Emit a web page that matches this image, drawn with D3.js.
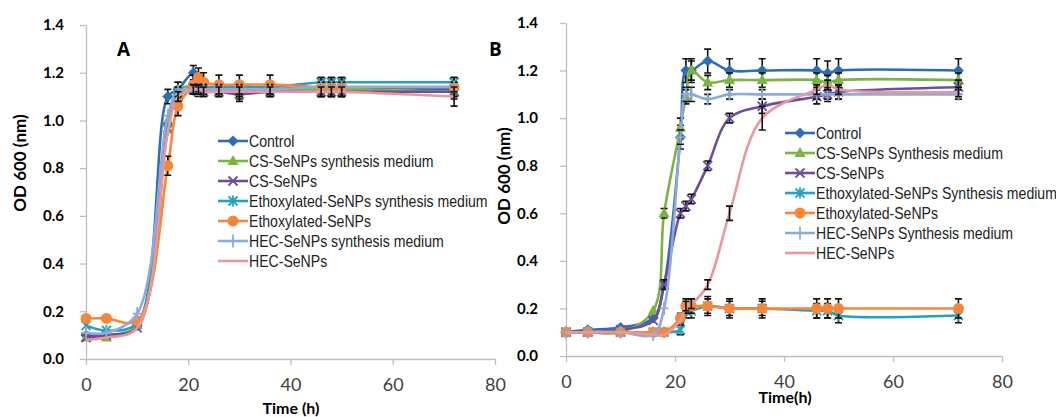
<!DOCTYPE html>
<html lang="en">
<head>
<meta charset="UTF-8">
<title>OD 600 growth curves</title>
<script src="https://d3js.org/d3.v7.min.js"></script>
<style>
  body { margin: 0; background: #fff; }
  svg { display: block; }
  .axis .domain, .axis line { stroke: #bfbfbf; stroke-width: 1.3; }
  .yaxis text { font: bold 15px Lato, sans-serif; fill: #000; }
  .xaxis text { font: 18px Lato, sans-serif; fill: #404040; }
  .lbl { font: bold 16px Lato, sans-serif; fill: #000; }
  .ylbl { font: bold 17px Lato, sans-serif; fill: #000; }
  .panel-letter { font: bold 19px "Open Sans", sans-serif; fill: #000; }
  .legend text { font: 16px "Liberation Sans", Arial, sans-serif; fill: #222; }
</style>
</head>
<body>
<svg id="chart" width="1056" height="417"></svg>
<script>
// sampling times (h), shared by both panels
const times = [0, 4, 10, 16, 18, 21, 22, 23, 26, 30, 36, 46, 48, 50, 72];
const xTicks = [0, 20, 40, 60, 80];
const yTicks = [0, 0.2, 0.4, 0.6, 0.8, 1.0, 1.2, 1.4];

const namesA = ["Control", "CS-SeNPs synthesis medium", "CS-SeNPs", "Ethoxylated-SeNPs synthesis medium",
                "Ethoxylated-SeNPs", "HEC-SeNPs synthesis medium", "HEC-SeNPs"];
const namesB = ["Control", "CS-SeNPs Synthesis medium", "CS-SeNPs", "Ethoxylated-SeNPs Synthesis medium",
                "Ethoxylated-SeNPs", "HEC-SeNPs Synthesis medium", "HEC-SeNPs"];

// panel A
const aControl = [0.10, 0.10, 0.14, 1.10, 1.13, 1.20, 1.16, 1.14, 1.13, 1.12, 1.13, 1.14, 1.14, 1.14, 1.13];
const aCsMed   = [0.09, 0.09, 0.14, 1.00, 1.13, 1.14, 1.13, 1.13, 1.13, 1.12, 1.13, 1.13, 1.13, 1.13, 1.12];
const aCs      = [0.09, 0.10, 0.13, 0.97, 1.10, 1.13, 1.12, 1.12, 1.12, 1.11, 1.12, 1.12, 1.12, 1.12, 1.12];
const aEthMed  = [0.14, 0.12, 0.15, 0.96, 1.12, 1.13, 1.14, 1.14, 1.14, 1.14, 1.14, 1.16, 1.16, 1.16, 1.16];
const aEth     = [0.17, 0.17, 0.16, 0.81, 1.06, 1.15, 1.18, 1.16, 1.15, 1.15, 1.15, 1.14, 1.14, 1.14, 1.14];
const aHecMed  = [0.11, 0.11, 0.19, 1.02, 1.12, 1.13, 1.13, 1.13, 1.13, 1.13, 1.13, 1.14, 1.14, 1.14, 1.14];
const aHec     = [0.08, 0.09, 0.13, 0.95, 1.10, 1.13, 1.13, 1.12, 1.12, 1.12, 1.12, 1.12, 1.12, 1.12, 1.10];

const aControlErr = [0, 0, 0, 0.03, 0.03, 0.03, 0.03, 0.03, 0.03, 0.03, 0.03, 0.03, 0.03, 0.03, 0.03];
const aCsMedErr   = [0, 0, 0, 0, 0.03, 0.02, 0.02, 0.02, 0.02, 0.02, 0.02, 0.03, 0.03, 0.03, 0.03];
const aCsErr      = [0, 0, 0, 0, 0.02, 0.02, 0.02, 0.02, 0.02, 0.03, 0.02, 0.02, 0.02, 0.02, 0.02];
const aEthMedErr  = [0, 0, 0, 0, 0.02, 0.02, 0.02, 0.02, 0.02, 0.02, 0.02, 0.02, 0.02, 0.02, 0.02];
const aEthErr     = [0, 0, 0, 0.04, 0.04, 0.04, 0.04, 0.04, 0.04, 0.04, 0.04, 0.04, 0.04, 0.04, 0.04];
const aHecMedErr  = [0, 0, 0, 0, 0.02, 0.02, 0.02, 0.02, 0.02, 0.02, 0.02, 0.02, 0.02, 0.02, 0.02];
const aHecErr     = [0, 0, 0, 0, 0.02, 0.02, 0.02, 0.02, 0.02, 0.02, 0.02, 0.02, 0.02, 0.02, 0.04];

// panel B
const bControl = [0.10, 0.11, 0.12, 0.16, 0.30, 0.92, 1.20, 1.20, 1.24, 1.20, 1.20, 1.20, 1.19, 1.20, 1.20];
const bCsMed   = [0.10, 0.10, 0.10, 0.19, 0.60, 0.96, 1.09, 1.20, 1.15, 1.16, 1.16, 1.16, 1.15, 1.16, 1.16];
const bCs      = [0.10, 0.10, 0.11, 0.15, 0.30, 0.60, 0.63, 0.66, 0.80, 1.00, 1.05, 1.09, 1.10, 1.11, 1.13];
const bEthMed  = [0.10, 0.10, 0.10, 0.10, 0.10, 0.11, 0.19, 0.19, 0.21, 0.20, 0.20, 0.19, 0.19, 0.17, 0.17];
const bEth     = [0.10, 0.10, 0.10, 0.10, 0.10, 0.16, 0.21, 0.21, 0.21, 0.20, 0.20, 0.20, 0.20, 0.20, 0.20];
const bHecMed  = [0.10, 0.10, 0.10, 0.09, 0.20, 0.92, 1.10, 1.10, 1.08, 1.10, 1.10, 1.10, 1.10, 1.10, 1.10];
const bHec     = [0.10, 0.10, 0.10, 0.09, 0.09, 0.15, 0.21, 0.22, 0.30, 0.60, 1.00, 1.12, 1.14, 1.12, 1.11];

const bControlErr = [0, 0, 0, 0, 0, 0.05, 0.05, 0.05, 0.05, 0.05, 0.05, 0.05, 0.05, 0.05, 0.05];
const bCsMedErr   = [0, 0, 0, 0, 0.02, 0.04, 0.03, 0.04, 0.03, 0.03, 0.03, 0.03, 0.03, 0.03, 0.03];
const bCsErr      = [0, 0, 0, 0, 0.02, 0.02, 0.02, 0.02, 0.02, 0.02, 0.03, 0.03, 0.03, 0.03, 0.03];
const bEthMedErr  = [0, 0, 0, 0, 0, 0.02, 0.03, 0.03, 0.03, 0.03, 0.03, 0.03, 0.03, 0.03, 0.03];
const bEthErr     = [0, 0, 0, 0, 0, 0.02, 0.03, 0.03, 0.04, 0.04, 0.04, 0.04, 0.04, 0.04, 0.04];
const bHecMedErr  = [0, 0, 0, 0, 0, 0.03, 0.03, 0.03, 0.02, 0.02, 0.02, 0.02, 0.02, 0.02, 0.02];
const bHecErr     = [0, 0, 0, 0, 0, 0, 0.02, 0.02, 0.02, 0.03, 0.05, 0.02, 0.02, 0.02, 0.02];

const colors  = ["#2f6db3", "#7cb342", "#6c4e9b", "#2aa0b8", "#f5873a", "#8eaadb", "#e9979a"];
const markers = ["diamond", "triangle", "x", "star", "circle", "plus", "none"];

const svg = d3.select("#chart");

function drawMarker(g, type, color) {
  if (type === "diamond") {
    g.append("path").attr("d", "M0,-5.5L5.5,0L0,5.5L-5.5,0Z").attr("fill", color);
  } else if (type === "triangle") {
    g.append("path").attr("d", "M0,-6L5.5,4L-5.5,4Z").attr("fill", color);
  } else if (type === "x") {
    g.append("path").attr("d", "M-4.5,-4.5L4.5,4.5M-4.5,4.5L4.5,-4.5")
      .attr("stroke", color).attr("stroke-width", 1.8).attr("fill", "none");
  } else if (type === "star") {
    g.append("path").attr("d", "M-4.5,-4.5L4.5,4.5M-4.5,4.5L4.5,-4.5M0,-5.5V5.5")
      .attr("stroke", color).attr("stroke-width", 1.8).attr("fill", "none");
  } else if (type === "circle") {
    g.append("circle").attr("r", 5.5).attr("fill", color);
  } else if (type === "plus") {
    g.append("path").attr("d", "M-4.5,0H4.5M0,-6.5V6.5")
      .attr("stroke", color).attr("stroke-width", 1.8).attr("fill", "none");
  }
}

function drawPanel(p) {
  const x = d3.scaleLinear().domain([0, 80]).range([p.left, p.right]);
  const y = d3.scaleLinear().domain([0, 1.4]).range([p.bottom, p.top]);

  svg.append("g").attr("class", "axis xaxis")
    .attr("transform", `translate(0,${p.bottom})`)
    .call(d3.axisBottom(x).tickValues(xTicks).tickSize(6).tickSizeOuter(0).tickPadding(13));

  svg.append("g").attr("class", "axis yaxis")
    .attr("transform", `translate(${p.left},0)`)
    .call(d3.axisLeft(y).tickValues(yTicks).tickFormat(d3.format(".1f"))
      .tickSize(6).tickSizeOuter(0).tickPadding(p.yPad));

  const line = d3.line()
    .x((d, i) => x(times[i]))
    .y(d => y(d))
    .curve(d3.curveCatmullRom.alpha(0.5));

  p.series.forEach((s, k) => {
    svg.append("path")
      .attr("d", line(s.vals))
      .attr("fill", "none")
      .attr("stroke", colors[k])
      .attr("stroke-width", 2.6);

    s.vals.forEach((v, i) => {
      const e = s.errs[i];
      if (e > 0) {
        const cx = x(times[i]), y0 = y(v - e), y1 = y(v + e);
        svg.append("path")
          .attr("d", `M${cx},${y0}V${y1}M${cx - 3.5},${y0}H${cx + 3.5}M${cx - 3.5},${y1}H${cx + 3.5}`)
          .attr("stroke", "#111").attr("stroke-width", 1.6).attr("fill", "none");
      }
      const m = svg.append("g").attr("transform", `translate(${x(times[i])},${y(v)})`);
      drawMarker(m, markers[k], colors[k]);
    });
  });

  // legend (text squeezed horizontally like the narrow original font)
  const lg = svg.append("g").attr("class", "legend");
  p.names.forEach((name, k) => {
    const ly = p.legY + k * 20;
    lg.append("line")
      .attr("x1", p.legX).attr("x2", p.legX + 30)
      .attr("y1", ly).attr("y2", ly)
      .attr("stroke", colors[k]).attr("stroke-width", 2.6);
    const m = lg.append("g").attr("transform", `translate(${p.legX + 15},${ly})`);
    drawMarker(m, markers[k], colors[k]);
    lg.append("text")
      .attr("transform", `translate(${p.legX + 31},${ly}) scale(0.88,1)`)
      .attr("dy", "0.36em").text(name);
  });

  svg.append("text").attr("class", "lbl")
    .attr("x", p.xLabX).attr("y", p.xLabY).attr("text-anchor", "middle").text(p.xLabel);
  svg.append("text").attr("class", "ylbl")
    .attr("transform", `translate(${p.yLabX},${p.yLabY}) rotate(-90)`)
    .attr("text-anchor", "middle").text("OD 600 (nm)");
  svg.append("text").attr("class", "panel-letter")
    .attr("x", p.letterX).attr("y", 56).text(p.letter);
}

drawPanel({
  left: 86, right: 495, top: 25, bottom: 359, yPad: 16,
  names: namesA,
  series: [
    { vals: aControl, errs: aControlErr }, { vals: aCsMed, errs: aCsMedErr },
    { vals: aCs, errs: aCsErr }, { vals: aEthMed, errs: aEthMedErr },
    { vals: aEth, errs: aEthErr }, { vals: aHecMed, errs: aHecMedErr },
    { vals: aHec, errs: aHecErr }
  ],
  legX: 218, legY: 141,
  xLabel: "Time (h)", xLabX: 291, xLabY: 414,
  yLabX: 26, yLabY: 163,
  letter: "A", letterX: 117
});

drawPanel({
  left: 566, right: 1002, top: 23, bottom: 356, yPad: 22,
  names: namesB,
  series: [
    { vals: bControl, errs: bControlErr }, { vals: bCsMed, errs: bCsMedErr },
    { vals: bCs, errs: bCsErr }, { vals: bEthMed, errs: bEthMedErr },
    { vals: bEth, errs: bEthErr }, { vals: bHecMed, errs: bHecMedErr },
    { vals: bHec, errs: bHecErr }
  ],
  legX: 785, legY: 133,
  xLabel: "Time(h)", xLabX: 785, xLabY: 403,
  yLabX: 510, yLabY: 176,
  letter: "B", letterX: 489
});
</script>
</body>
</html>
